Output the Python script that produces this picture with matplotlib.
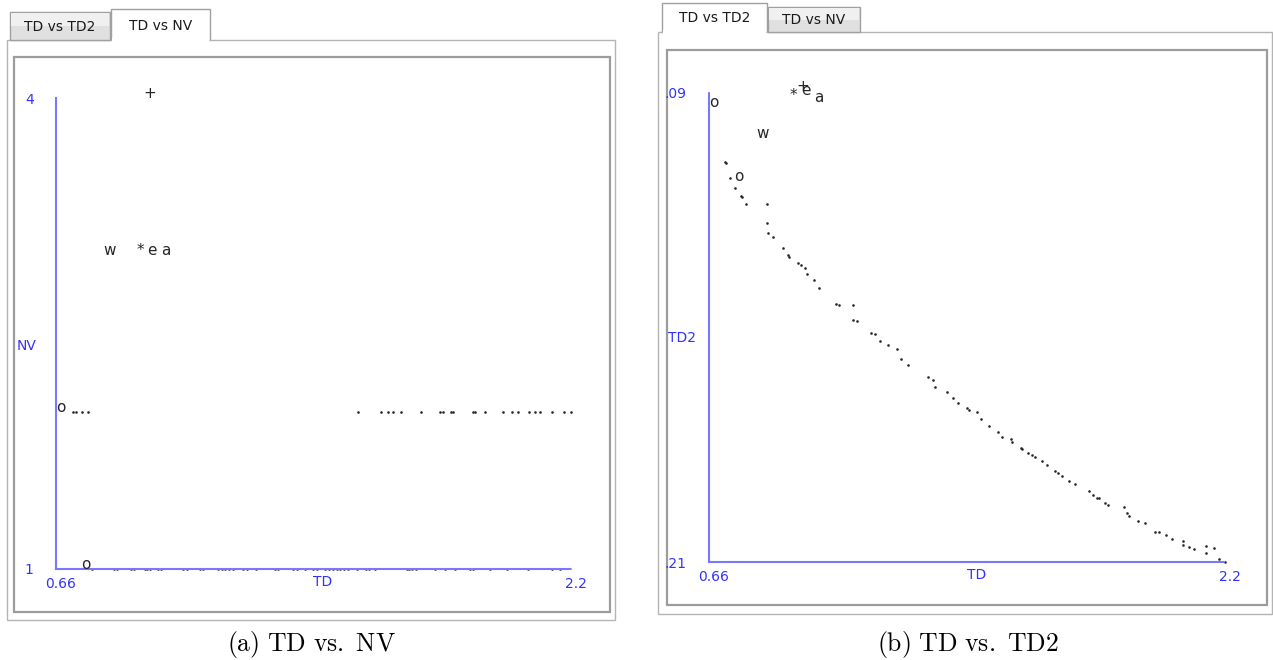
import matplotlib.pyplot as plt
import matplotlib.transforms as mtransforms
from matplotlib.patches import Rectangle, Polygon

plt.rcParams['mathtext.fontset'] = 'cm'

W, H = 1273, 660

# labelled points (same TD values appear in both views)
lab_chars = ['o', 'o', 'w', '*', '+', 'e', 'a']
lab_td = [0.675, 0.750, 0.819, 0.912, 0.939, 0.948, 0.987]
lab_nv = [2, 1, 3, 3, 4, 3, 3]
lab_td2 = [0.0926, 0.1117, 0.1007, 0.0908, 0.0887, 0.0897, 0.0915]

# TD vs NV: plain dots
nv1_td = [0.768, 0.833, 0.842, 0.884, 0.893, 0.926, 0.932, 0.941, 0.965, 0.974,
          1.040, 1.052, 1.091, 1.100, 1.144, 1.156, 1.165, 1.177, 1.189, 1.219,
          1.231, 1.258, 1.315, 1.324, 1.369, 1.381, 1.405, 1.428, 1.440, 1.464,
          1.476, 1.488, 1.500, 1.509, 1.521, 1.533, 1.560, 1.587, 1.596, 1.614,
          1.709, 1.715, 1.724, 1.736, 1.793, 1.823, 1.853, 1.898, 1.907, 1.958,
          2.008, 2.071, 2.143, 2.167]
nv2_td = [0.711, 0.720, 0.738, 0.756, 1.563, 1.632, 1.653, 1.668, 1.692, 1.751,
          1.808, 1.817, 1.841, 1.847, 1.907, 1.913, 1.943, 1.997, 2.023, 2.041,
          2.074, 2.092, 2.107, 2.143, 2.179, 2.200]

# TD vs TD2: plain dots
td_vals = [0.708, 0.711, 0.723, 0.738, 0.756, 0.758, 0.770, 0.833, 0.833, 0.836,
           0.851, 0.881, 0.896, 0.899, 0.926, 0.935, 0.947, 0.952, 0.973, 0.988,
           1.039, 1.048, 1.090, 1.090, 1.102, 1.143, 1.155, 1.170, 1.194, 1.221,
           1.233, 1.254, 1.314, 1.329, 1.335, 1.370, 1.388, 1.403, 1.430, 1.436,
           1.460, 1.472, 1.496, 1.522, 1.534, 1.561, 1.564, 1.591, 1.594, 1.612,
           1.624, 1.633, 1.654, 1.669, 1.693, 1.702, 1.714, 1.734, 1.752, 1.794,
           1.806, 1.818, 1.824, 1.842, 1.851, 1.899, 1.908, 1.914, 1.940, 1.961,
           1.991, 2.003, 2.024, 2.042, 2.075, 2.075, 2.093, 2.107, 2.143, 2.143,
           2.167, 2.182, 2.200]
td2_vals = [0.1079, 0.1081, 0.1120, 0.1145, 0.1166, 0.1168, 0.1186, 0.1186, 0.1234, 0.1260,
            0.1270, 0.1298, 0.1316, 0.1321, 0.1337, 0.1342, 0.1349, 0.1365, 0.1380, 0.1400,
            0.1441, 0.1444, 0.1444, 0.1482, 0.1485, 0.1515, 0.1518, 0.1536, 0.1546, 0.1556,
            0.1582, 0.1597, 0.1628, 0.1635, 0.1653, 0.1666, 0.1681, 0.1694, 0.1707, 0.1712,
            0.1717, 0.1735, 0.1753, 0.1768, 0.1781, 0.1786, 0.1794, 0.1809, 0.1812, 0.1822,
            0.1827, 0.1832, 0.1842, 0.1852, 0.1868, 0.1873, 0.1880, 0.1893, 0.1901, 0.1919,
            0.1929, 0.1937, 0.1937, 0.1949, 0.1954, 0.1960, 0.1975, 0.1983, 0.1995, 0.2000,
            0.2023, 0.2023, 0.2031, 0.2041, 0.2046, 0.2057, 0.2062, 0.2067, 0.2059, 0.2077,
            0.2064, 0.2092, 0.2100]

blue = '#3232ff'
axis_blue = '#7878ff'
ink = '#262626'
ui_font = 'DejaVu Sans'

fig = plt.figure(figsize=(W / 100, H / 100), dpi=100)
bg = fig.add_axes([0, 0, 1, 1], zorder=0)
bg.set_xlim(0, W)
bg.set_ylim(H, 0)
bg.axis('off')


def rect(x0, y0, x1, y1, fc='white', ec='#a9a9a9', lw=1.0):
    bg.add_patch(Rectangle((x0, y0), x1 - x0, y1 - y0, facecolor=fc, edgecolor=ec, lw=lw))


def tab(x0, y0, x1, y1, text, active):
    if active:
        bg.add_patch(Polygon([(x0, y1), (x0, y0), (x1, y0), (x1, y1)], closed=False,
                             facecolor='white', edgecolor='#a0a0a0', lw=1.0, zorder=3))
        bg.add_patch(Rectangle((x0 + 0.8, y1 - 2), x1 - x0 - 1.6, 4, facecolor='white',
                               edgecolor='none', zorder=3))
    else:
        bg.add_patch(Rectangle((x0, y0), x1 - x0, y1 - y0, facecolor='#e0e0e0',
                               edgecolor='#a0a0a0', lw=1.0, zorder=1))
        bg.add_patch(Rectangle((x0 + 1, y0 + 1), x1 - x0 - 2, (y1 - y0) / 2 - 1,
                               facecolor='#f0f0f0', edgecolor='none', zorder=1))
    bg.text((x0 + x1) / 2, (y0 + y1) / 2 + 1, text, ha='center', va='center',
            fontsize=10, family=ui_font, color='#1a1a1a', zorder=4)


# left window
rect(7, 40, 615, 620, ec='#b4b4b4')
rect(14, 57, 610, 612, ec='#9c9c9c', lw=1.6)
tab(10, 12, 110, 40, 'TD vs TD2', False)
tab(111, 9, 210, 40, 'TD vs NV', True)

# right window
rect(658, 32, 1272, 614, ec='#b4b4b4')
rect(667, 50, 1267, 605, ec='#9c9c9c', lw=1.6)
tab(768, 7, 860, 32, 'TD vs NV', False)
tab(662, 3, 767, 32, 'TD vs TD2', True)


def style_axes(ax, xlim, ylim, yticks, ylabs, ylabel, ylab_pos):
    ax.set_facecolor('none')
    ax.set_xlim(*xlim)
    ax.set_ylim(*ylim)
    for s in ['top', 'right']:
        ax.spines[s].set_visible(False)
    for s in ['left', 'bottom']:
        ax.spines[s].set_color(axis_blue)
        ax.spines[s].set_linestyle((0, (1, 1)))
        ax.spines[s].set_linewidth(1.5)
    ax.set_xticks(list(xlim))
    ax.set_xticklabels(['0.66', '2.2'])
    ax.set_yticks(yticks)
    ax.set_yticklabels(ylabs)
    ax.tick_params(length=0, labelcolor=blue, labelsize=10)
    ax.tick_params(axis='x', pad=6)
    ax.tick_params(axis='y', pad=16)
    off = mtransforms.ScaledTranslation(5 / 100, 0, fig.dpi_scale_trans)
    for lbl in ax.get_xticklabels():
        lbl.set_transform(lbl.get_transform() + off)
        lbl.set_family(ui_font)
    for lbl in ax.get_yticklabels():
        lbl.set_family(ui_font)
    ax.set_xlabel('TD', color=blue, fontsize=10, family=ui_font)
    ax.xaxis.set_label_coords(0.518, -0.028)
    ax.xaxis.label.set_va('center')
    ax.set_ylabel(ylabel, color=blue, fontsize=10, family=ui_font, rotation=0,
                  ha='center', va='center')
    ax.yaxis.set_label_coords(*ylab_pos)


# TD vs NV
ax1 = fig.add_axes([56 / W, (H - 569) / H, 515 / W, 471 / H], zorder=2)
style_axes(ax1, (0.66, 2.2), (1, 4), [1, 4], ['1', '4'], 'NV', (-0.058, 0.473))
ax1.scatter(nv1_td, [1] * len(nv1_td), s=3.5, marker='o', color=ink, lw=0, clip_on=False)
ax1.scatter(nv2_td, [2] * len(nv2_td), s=3.5, marker='o', color=ink, lw=0, clip_on=False)
for c, x, y in zip(lab_chars, lab_td, lab_nv):
    ax1.text(x, y, c, ha='center', va='baseline', fontsize=11, family=ui_font, color=ink)

# TD vs TD2 (TD2 runs downward)
ax2 = fig.add_axes([709 / W, (H - 562) / H, 516 / W, 470 / H], zorder=2)
style_axes(ax2, (0.66, 2.2), (0.21, 0.09), [0.21, 0.09], ['.21', '.09'], 'TD2',
           (-0.052, 0.477))
ax2.scatter(td_vals, td2_vals, s=3.5, marker='o', color=ink, lw=0, clip_on=False)
for c, x, y in zip(lab_chars, lab_td, lab_td2):
    ax2.text(x, y, c, ha='center', va='center', fontsize=11, family=ui_font, color=ink,
             clip_on=False)

fig.text(311 / W, 1 - 645 / H, r'$\mathrm{(a)\ TD\ vs.\ NV}$', ha='center', va='center',
         fontsize=18.5)
fig.text(968 / W, 1 - 645 / H, r'$\mathrm{(b)\ TD\ vs.\ TD2}$', ha='center', va='center',
         fontsize=18.5)

fig.savefig('out.png', dpi=100)
